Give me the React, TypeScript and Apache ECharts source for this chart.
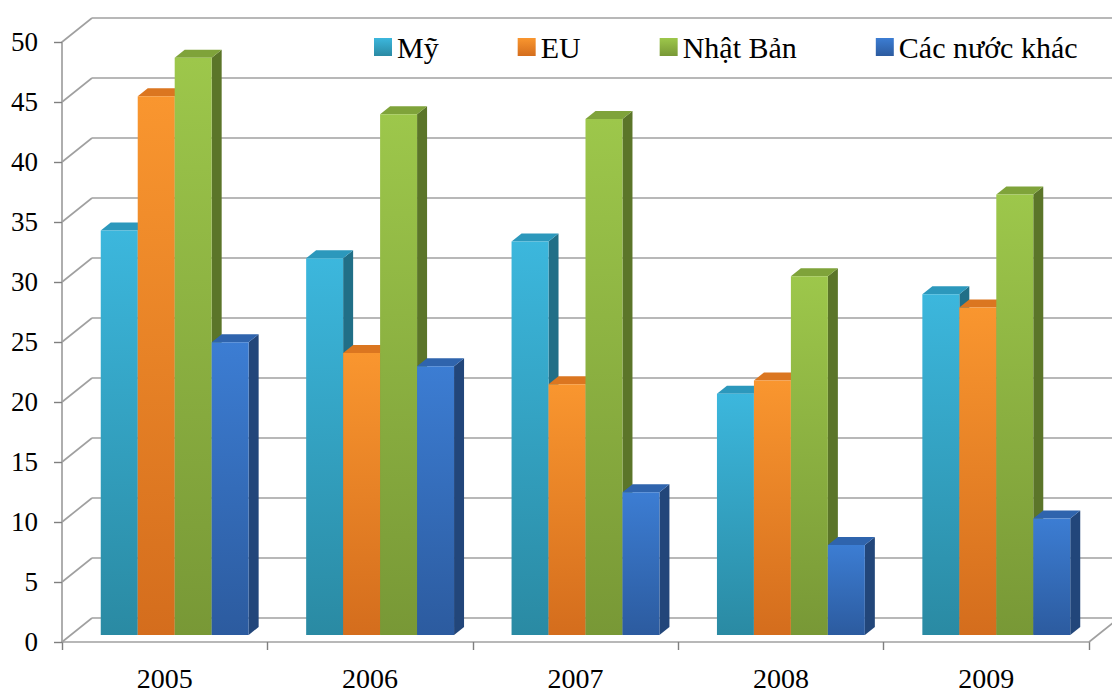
import React, { useEffect, useRef } from "react";
import * as echarts from "echarts";

// Years on the category axis
const YEARS = ["2005", "2006", "2007", "2008", "2009"];
// Series names (legend order)
const SERIES_NAMES = ["Mỹ", "EU", "Nhật Bản", "Các nước khác"];
// Values per market
const MY = [33.7, 31.4, 32.8, 20.1, 28.4];
const EU = [44.9, 23.5, 20.9, 21.2, 27.3];
const NHAT_BAN = [48.1, 43.4, 43.0, 29.9, 36.7];
const KHAC = [24.4, 22.4, 11.9, 7.5, 9.7];
// Value axis ticks
const Y_TICKS = [0, 5, 10, 15, 20, 25, 30, 35, 40, 45, 50];

const SERIES_VALUES = [MY, EU, NHAT_BAN, KHAC];

// Face colours for each market's 3D column
const FACES = [
  { light: "#3cb7dd", dark: "#2a8aa3", side: "#216f87", top: "#2c98bc" },
  { light: "#f9962f", dark: "#d46d1d", side: "#b25a17", top: "#db7620" },
  { light: "#9dc74b", dark: "#789836", side: "#5b7529", top: "#7fa33a" },
  { light: "#3c7dd3", dark: "#2c5b9f", side: "#22467a", top: "#2f64ad" },
];

// Perspective offsets (pixels)
const WALL_DX = 30;
const WALL_DY = 24;
const BAR_DX = 10;
const BAR_DY = 7;
const DEPTH_X = 10;
const DEPTH_Y = 8;
const BAR_RATIO = 0.18;

const GRID_COLOR = "#a0a0a0";
const FONT = "Liberation Serif";

function vGrad(a: string, b: string) {
  return new echarts.graphic.LinearGradient(0, 0, 0, 1, [
    { offset: 0, color: a },
    { offset: 1, color: b },
  ]);
}

export default function App() {
  const ref = useRef<HTMLDivElement>(null);

  useEffect(() => {
    if (!ref.current) return;
    const chart = echarts.init(ref.current, undefined, { renderer: "svg" });

    // Side wall diagonals, back-wall gridlines and the right floor edge
    const wallSeries: any = {
      type: "custom",
      name: "wall",
      z: 1,
      silent: true,
      clip: false,
      data: Y_TICKS.map((v) => [0, v]),
      encode: { x: 0, y: 1 },
      renderItem: (params: any, api: any) => {
        const v = api.value(1);
        const cs = params.coordSys;
        const y = api.coord([0, v])[1];
        const x0 = cs.x;
        const x1 = cs.x + cs.width;
        const style = { stroke: GRID_COLOR, lineWidth: 1.7 };
        const children: any[] = [
          { type: "line", shape: { x1: x0, y1: y, x2: x0 + WALL_DX, y2: y - WALL_DY }, style },
          { type: "line", shape: { x1: x0 + WALL_DX, y1: y - WALL_DY, x2: x1 + WALL_DX, y2: y - WALL_DY }, style },
        ];
        if (v === 0) {
          children.push({ type: "line", shape: { x1: x1, y1: y, x2: x1 + WALL_DX, y2: y - WALL_DY }, style });
        }
        return { type: "group", children };
      },
    };

    // 3D columns: side face, top face, then front face
    const barSeries = SERIES_NAMES.map((name, s) => {
      const f = FACES[s];
      return {
        type: "custom",
        name,
        z: 2 + s,
        clip: false,
        itemStyle: { color: vGrad(f.light, f.dark) },
        data: SERIES_VALUES[s].map((v, i) => [i, v]),
        encode: { x: 0, y: 1 },
        renderItem: (_params: any, api: any) => {
          const cat = api.value(0);
          const val = api.value(1);
          const base = api.coord([cat, 0]);
          const top = api.coord([cat, val]);
          const band = api.size([1, 0])[0];
          const bw = band * BAR_RATIO;
          const x = base[0] + BAR_DX - 2 * bw + s * bw;
          const yb = base[1] - BAR_DY;
          const yt = top[1] - BAR_DY;
          return {
            type: "group",
            children: [
              {
                type: "polygon",
                shape: {
                  points: [
                    [x + bw, yt],
                    [x + bw + DEPTH_X, yt - DEPTH_Y],
                    [x + bw + DEPTH_X, yb - DEPTH_Y],
                    [x + bw, yb],
                  ],
                },
                style: { fill: f.side },
              },
              {
                type: "polygon",
                shape: {
                  points: [
                    [x, yt],
                    [x + DEPTH_X, yt - DEPTH_Y],
                    [x + bw + DEPTH_X, yt - DEPTH_Y],
                    [x + bw, yt],
                  ],
                },
                style: { fill: f.top },
              },
              {
                type: "rect",
                shape: { x, y: yt, width: bw, height: yb - yt },
                style: { fill: vGrad(f.light, f.dark) },
              },
            ],
          };
        },
      };
    });

    chart.setOption({
      animation: false,
      backgroundColor: "#ffffff",
      textStyle: { fontFamily: FONT },
      grid: { left: 62, top: 42, width: 1027, height: 602 },
      legend: {
        data: SERIES_NAMES,
        left: 374,
        top: 32,
        padding: 0,
        icon: "rect",
        itemWidth: 18,
        itemHeight: 18,
        itemGap: 79,
        textStyle: { fontFamily: FONT, fontSize: 30, color: "#000" },
      },
      xAxis: {
        type: "category",
        data: YEARS,
        boundaryGap: true,
        axisLine: { show: true, lineStyle: { color: GRID_COLOR, width: 1.7 } },
        axisTick: { show: true, alignWithLabel: false, interval: 0, length: 8, lineStyle: { color: "#7f7f7f", width: 1.4 } },
        axisLabel: { fontFamily: FONT, fontSize: 28, color: "#000", margin: 22 },
        splitLine: { show: false },
      },
      yAxis: {
        type: "value",
        min: 0,
        max: 50,
        interval: 5,
        axisLine: { show: true, lineStyle: { color: GRID_COLOR, width: 1.7 } },
        axisTick: { show: true, length: 8, lineStyle: { color: "#7f7f7f", width: 1.4 } },
        axisLabel: { fontFamily: FONT, fontSize: 27, color: "#000", margin: 24 },
        splitLine: { show: false },
      },
      series: [wallSeries, ...barSeries],
    });

    return () => chart.dispose();
  }, []);

  return (
    <div
      ref={ref}
      style={{ position: "absolute", left: 0, top: 0, width: 1112, height: 692 }}
    />
  );
}
